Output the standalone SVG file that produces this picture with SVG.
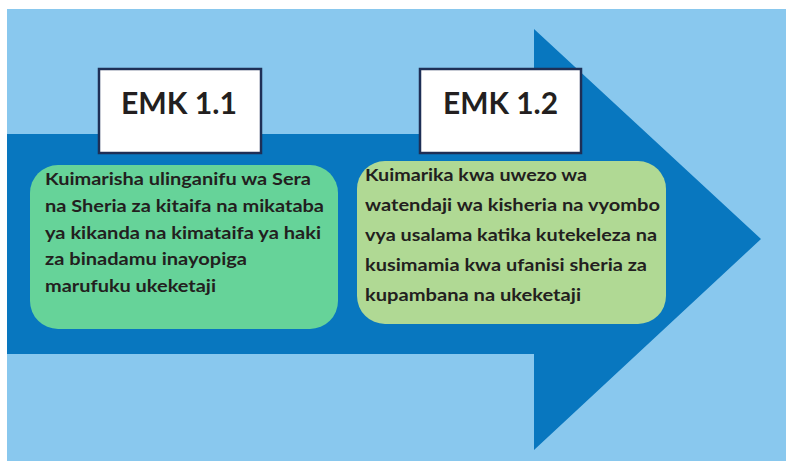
<svg xmlns="http://www.w3.org/2000/svg" width="786" height="463" viewBox="0 0 786 463">
<style>
.lbl{font-family:Lato,"Liberation Sans","DejaVu Sans",sans-serif;font-weight:bold;fill:#231F20}
.title{font-size:31px;text-anchor:middle}
.body{font-size:17px}
.hdr{fill:#FFFFFF;stroke:#1E2F56;stroke-width:2.5}
</style>
<rect width="786" height="463" fill="#FFFFFF"/>
<rect x="7" y="9" width="779" height="452" fill="#89C8EE"/>
<g id="arrow">
<polygon points="7,134 534,134 534,29 761,239 534,450 534,354 7,354" fill="#0877BF"/>
</g>
<g id="connectors"></g>
<g id="emk11">
<rect class="hdr" x="99" y="69" width="162" height="84"/>
<text class="lbl title" x="179" y="114" textLength="116" lengthAdjust="spacingAndGlyphs">EMK 1.1</text>
</g>
<g id="emk12">
<rect class="hdr" x="420" y="69" width="161" height="84"/>
<text class="lbl title" x="500.5" y="114" textLength="115" lengthAdjust="spacingAndGlyphs">EMK 1.2</text>
</g>
<g id="box1">
<rect x="30" y="165" width="308" height="164" rx="28" fill="#66D399"/>
<text class="lbl body" x="45" y="185" textLength="266" lengthAdjust="spacingAndGlyphs">Kuimarisha ulinganifu wa Sera</text>
<text class="lbl body" x="45" y="212" textLength="279" lengthAdjust="spacingAndGlyphs">na Sheria za kitaifa na mikataba</text>
<text class="lbl body" x="45" y="238.5" textLength="276" lengthAdjust="spacingAndGlyphs">ya kikanda na kimataifa ya haki</text>
<text class="lbl body" x="45" y="265" textLength="202" lengthAdjust="spacingAndGlyphs">za binadamu inayopiga</text>
<text class="lbl body" x="45" y="292" textLength="171" lengthAdjust="spacingAndGlyphs">marufuku ukeketaji</text>
</g>
<g id="box2">
<rect x="357" y="161" width="309" height="163" rx="28" fill="#B0D994"/>
<text class="lbl body" x="365" y="181" textLength="222" lengthAdjust="spacingAndGlyphs">Kuimarika kwa uwezo wa</text>
<text class="lbl body" x="365" y="211" textLength="295" lengthAdjust="spacingAndGlyphs">watendaji wa kisheria na vyombo</text>
<text class="lbl body" x="365" y="241" textLength="292" lengthAdjust="spacingAndGlyphs">vya usalama katika kutekeleza na</text>
<text class="lbl body" x="365" y="271" textLength="282" lengthAdjust="spacingAndGlyphs">kusimamia kwa ufanisi sheria za</text>
<text class="lbl body" x="365" y="301" textLength="216" lengthAdjust="spacingAndGlyphs">kupambana na ukeketaji</text>
</g>
</svg>
